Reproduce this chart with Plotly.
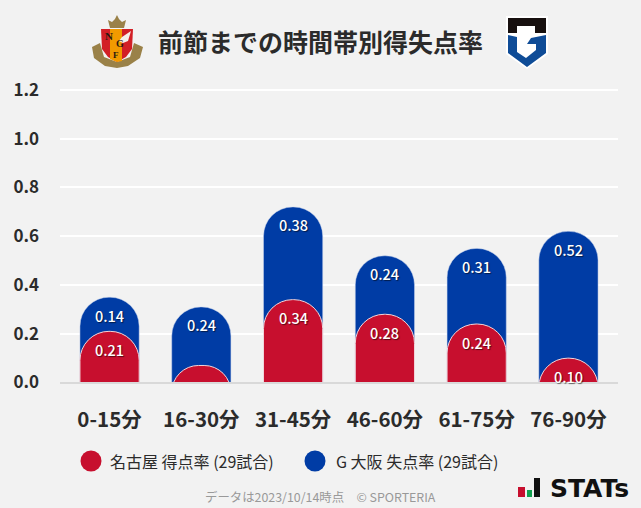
import plotly.graph_objects as go

W, H = 641, 508
categories = ["0-15分", "16-30分", "31-45分", "46-60分", "61-75分", "76-90分"]
scored = [0.21, 0.07, 0.34, 0.28, 0.24, 0.10]
conceded = [0.14, 0.24, 0.38, 0.24, 0.31, 0.52]
scored_labels = ["0.21", "", "0.34", "0.28", "0.24", "0.10"]
conceded_labels = ["0.14", "0.24", "0.38", "0.24", "0.31", "0.52"]
y_ticks = [0.0, 0.2, 0.4, 0.6, 0.8, 1.0, 1.2]
title = "前節までの時間帯別得失点率"
legend_home = "名古屋 得点率 (29試合)"
legend_away = "G 大阪 失点率 (29試合)"
footer = "データは2023/10/14時点　© SPORTERIA"

RED, BLUE = "#c70f2e", "#003ca5"
FONT = "Noto Sans CJK JP"
BG = "#f2f2f2"
INK = "#2b2b2b"
SHADOW = "1px 1px 1px rgba(0,0,0,0.55)"
L, R, T, B = 60, 618, 88, 384
Y_RANGE = [-0.006, 1.208]
# The reference's bars run below the baseline and are cut off there, so each cap stays a full arc.
BELOW_AXIS = 0.15

totals = [a + b for a, b in zip(scored, conceded)]


def px(x):
    return (x - L) / (R - L)


def py(y):
    return 1 - (y - T) / (B - T)


def poly(points, fill):
    d = "M " + " L ".join(f"{px(x):.5f},{py(y):.5f}" for x, y in points) + " Z"
    return dict(type="path", xref="paper", yref="paper", path=d, fillcolor=fill, line_width=0, layer="above")


def circle(cx, cy, r, fill):
    return dict(type="circle", xref="paper", yref="paper", x0=px(cx - r), x1=px(cx + r), y0=py(cy + r), y1=py(cy - r),
                fillcolor=fill, line_width=0, layer="above")


def rect(x0, y0, x1, y1, fill):
    return dict(type="rect", xref="paper", yref="paper", x0=px(x0), x1=px(x1), y0=py(y1), y1=py(y0),
                fillcolor=fill, line_width=0, layer="above")


def page_text(text, x, y, size, color=INK, anchor="center", family=FONT, weight=400):
    return dict(text=text, x=px(x), y=py(y), xref="paper", yref="paper", showarrow=False, xanchor=anchor, yanchor="middle",
                font=dict(family=family, size=size, color=color, weight=weight))


def bar_label(cat, top, text, yref):
    return dict(text=text, x=cat, y=top, xref="x", yref=yref, showarrow=False, yshift=-18, yanchor="middle",
                font=dict(family=FONT, size=14.5, color="white", weight=500, shadow=SHADOW))


fig = go.Figure()
fig.add_bar(x=categories, y=totals, marker=dict(color=BLUE, line=dict(color="#c9d5ec", width=0.5)), width=0.645,
            hoverinfo="skip", yaxis="y")
fig.add_bar(x=categories, y=[v + BELOW_AXIS for v in scored], base=-BELOW_AXIS,
            marker=dict(color=RED, line=dict(color="#f2d5da", width=1)), width=0.645,
            hoverinfo="skip", yaxis="y2")

shapes = [
    # baseline
    rect(L, 382, R, 384, "#d9d9d9"),
    # Nagoya crest (simplified)
    poly([(92, 47), (100, 43), (104, 57), (117, 62), (130, 57), (134, 43), (143, 47), (140, 58), (128, 66), (117, 68),
          (105, 66), (94, 58)], "#9a8148"),
    poly([(110, 28), (108, 20), (112, 22), (115, 19), (117, 15), (119, 19), (122, 22), (126, 20), (124, 28)], "#9a8148"),
    poly([(101, 29), (133, 29), (132, 49), (126, 57), (117, 62), (108, 57), (102, 49)], "#d21f26"),
    poly([(110, 29), (122, 29), (122, 61), (117, 62), (110, 59)], "#f29a00"),
    poly([(122, 37), (131, 31), (128, 41), (123, 43), (119, 41)], "#f4f0ea"),
    # Gamba crest (simplified)
    poly([(506, 16), (548, 16), (548, 54), (527, 69), (506, 54)], "#ffffff"),
    poly([(508, 18), (546, 18), (546, 33), (535, 33), (535, 26), (517, 26), (517, 33), (508, 33)], "#17100f"),
    poly([(508, 35), (517, 37), (517, 52), (526, 58), (536, 50), (536, 44), (527, 44), (531, 38), (546, 35),
          (546, 53), (527, 67), (508, 53)], "#0f4c97"),
    # legend swatches
    circle(91, 461, 10.5, RED),
    circle(315, 461, 10.5, BLUE),
    # STATs mark
    rect(518, 487, 525, 497, RED),
    rect(527, 490, 532, 497, "#12a150"),
    rect(534, 478, 540, 497, "#111111"),
]

annotations = [
    page_text(title, 320.5, 41, 25, weight=700),
    page_text("N", 109, 36, 11, "#2a1a10", family="Liberation Serif", weight=700),
    page_text("G", 120, 43, 10, "#2a1a10", family="Liberation Serif", weight=700),
    page_text("F", 116, 55, 9, "#2a1a10", family="Liberation Serif", weight=700),
    page_text(legend_home, 108, 461, 16, anchor="left"),
    page_text(legend_away, 334, 461, 16, anchor="left"),
    page_text(footer, 320.5, 497, 12.4, "#999999"),
    page_text("STATs", 548, 488.5, 25, "#111111", anchor="left", family="DejaVu Sans", weight=700),
]
annotations += [bar_label(c, t, s, "y") for c, t, s in zip(categories, totals, conceded_labels)]
annotations += [bar_label(c, t, s, "y2") for c, t, s in zip(categories, scored, scored_labels) if s]

fig.update_layout(
    width=W, height=H, autosize=False, barmode="overlay", barcornerradius=29, showlegend=False,
    paper_bgcolor=BG, plot_bgcolor=BG, margin=dict(l=L, r=W - R, t=T, b=H - B),
    font=dict(family=FONT, color=INK), shapes=shapes, annotations=annotations,
    xaxis=dict(type="category", categoryorder="array", categoryarray=categories, range=[-0.54, 5.54], showgrid=False,
               ticks="", showline=False, zeroline=False, tickfont=dict(size=20.5, family=FONT, weight=700, color=INK),
               ticklabelstandoff=21),
    yaxis=dict(range=Y_RANGE, tickvals=y_ticks, ticktext=[f"{v:.1f}" for v in y_ticks], gridcolor="white", gridwidth=2,
               zeroline=False, showline=False, ticks="",
               tickfont=dict(size=17, family=FONT, weight=700, color=INK), ticklabelstandoff=20),
    yaxis2=dict(range=Y_RANGE, overlaying="y", visible=False, showgrid=False, zeroline=False),
)
fig.write_html("out.html", config=dict(displayModeBar=False),
               post_script="document.body.style.margin='0';document.body.style.overflow='hidden';document.body.style.background='#f2f2f2';window.dispatchEvent(new Event('resize'));")
